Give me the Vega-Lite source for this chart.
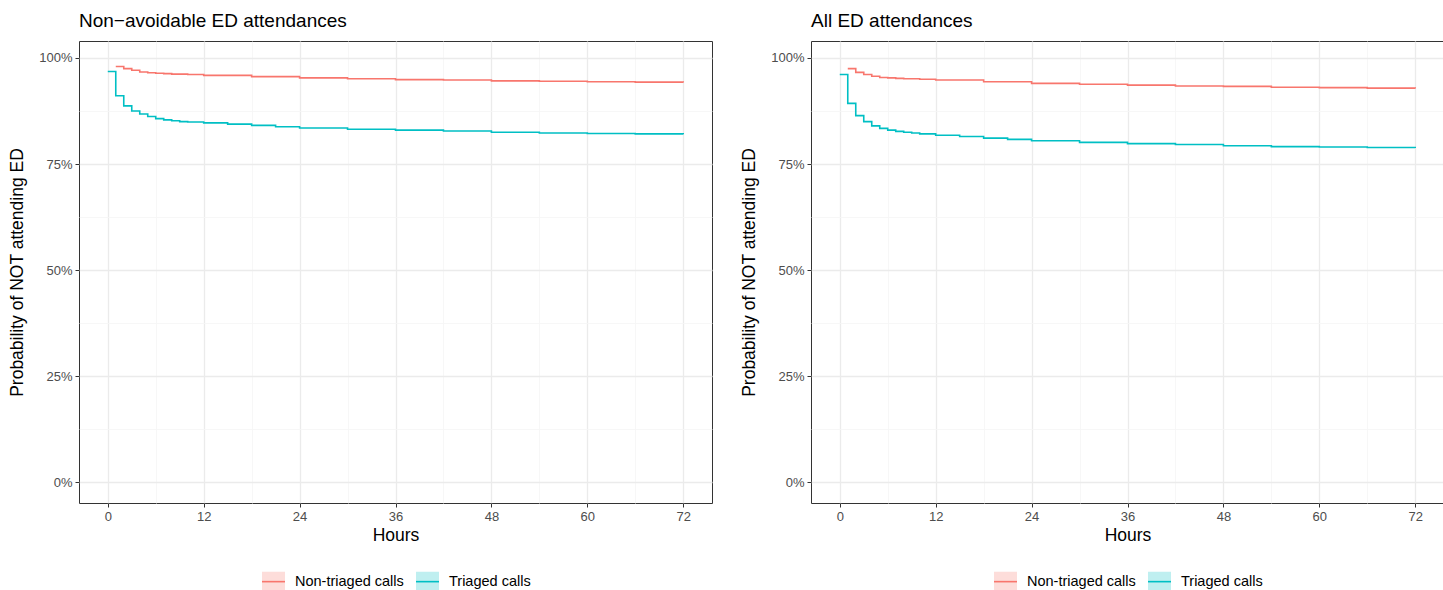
{
  "$schema": "https://vega.github.io/schema/vega-lite/v6.json",
  "padding": {"left": 8, "top": 11, "right": 0, "bottom": 0},
  "datasets": {
    "km": [
      {"panel": "A", "group": "Non-triaged calls", "h": 1, "p": 0.980},
      {"panel": "A", "group": "Non-triaged calls", "h": 2, "p": 0.975},
      {"panel": "A", "group": "Non-triaged calls", "h": 3, "p": 0.971},
      {"panel": "A", "group": "Non-triaged calls", "h": 4, "p": 0.967},
      {"panel": "A", "group": "Non-triaged calls", "h": 5, "p": 0.965},
      {"panel": "A", "group": "Non-triaged calls", "h": 6, "p": 0.964},
      {"panel": "A", "group": "Non-triaged calls", "h": 7, "p": 0.963},
      {"panel": "A", "group": "Non-triaged calls", "h": 8, "p": 0.962},
      {"panel": "A", "group": "Non-triaged calls", "h": 10, "p": 0.961},
      {"panel": "A", "group": "Non-triaged calls", "h": 12, "p": 0.959},
      {"panel": "A", "group": "Non-triaged calls", "h": 18, "p": 0.956},
      {"panel": "A", "group": "Non-triaged calls", "h": 24, "p": 0.953},
      {"panel": "A", "group": "Non-triaged calls", "h": 30, "p": 0.951},
      {"panel": "A", "group": "Non-triaged calls", "h": 36, "p": 0.949},
      {"panel": "A", "group": "Non-triaged calls", "h": 42, "p": 0.948},
      {"panel": "A", "group": "Non-triaged calls", "h": 48, "p": 0.946},
      {"panel": "A", "group": "Non-triaged calls", "h": 54, "p": 0.945},
      {"panel": "A", "group": "Non-triaged calls", "h": 60, "p": 0.944},
      {"panel": "A", "group": "Non-triaged calls", "h": 66, "p": 0.943},
      {"panel": "A", "group": "Non-triaged calls", "h": 72, "p": 0.942},
      {"panel": "A", "group": "Triaged calls", "h": 0, "p": 0.968},
      {"panel": "A", "group": "Triaged calls", "h": 1, "p": 0.911},
      {"panel": "A", "group": "Triaged calls", "h": 2, "p": 0.887},
      {"panel": "A", "group": "Triaged calls", "h": 3, "p": 0.875},
      {"panel": "A", "group": "Triaged calls", "h": 4, "p": 0.868},
      {"panel": "A", "group": "Triaged calls", "h": 5, "p": 0.862},
      {"panel": "A", "group": "Triaged calls", "h": 6, "p": 0.857},
      {"panel": "A", "group": "Triaged calls", "h": 7, "p": 0.854},
      {"panel": "A", "group": "Triaged calls", "h": 8, "p": 0.852},
      {"panel": "A", "group": "Triaged calls", "h": 9, "p": 0.850},
      {"panel": "A", "group": "Triaged calls", "h": 10, "p": 0.849},
      {"panel": "A", "group": "Triaged calls", "h": 12, "p": 0.847},
      {"panel": "A", "group": "Triaged calls", "h": 15, "p": 0.844},
      {"panel": "A", "group": "Triaged calls", "h": 18, "p": 0.841},
      {"panel": "A", "group": "Triaged calls", "h": 21, "p": 0.838},
      {"panel": "A", "group": "Triaged calls", "h": 24, "p": 0.835},
      {"panel": "A", "group": "Triaged calls", "h": 30, "p": 0.832},
      {"panel": "A", "group": "Triaged calls", "h": 36, "p": 0.830},
      {"panel": "A", "group": "Triaged calls", "h": 42, "p": 0.828},
      {"panel": "A", "group": "Triaged calls", "h": 48, "p": 0.825},
      {"panel": "A", "group": "Triaged calls", "h": 54, "p": 0.823},
      {"panel": "A", "group": "Triaged calls", "h": 60, "p": 0.822},
      {"panel": "A", "group": "Triaged calls", "h": 66, "p": 0.821},
      {"panel": "A", "group": "Triaged calls", "h": 72, "p": 0.820},
      {"panel": "B", "group": "Non-triaged calls", "h": 1, "p": 0.975},
      {"panel": "B", "group": "Non-triaged calls", "h": 2, "p": 0.966},
      {"panel": "B", "group": "Non-triaged calls", "h": 3, "p": 0.961},
      {"panel": "B", "group": "Non-triaged calls", "h": 4, "p": 0.957},
      {"panel": "B", "group": "Non-triaged calls", "h": 5, "p": 0.954},
      {"panel": "B", "group": "Non-triaged calls", "h": 6, "p": 0.953},
      {"panel": "B", "group": "Non-triaged calls", "h": 7, "p": 0.952},
      {"panel": "B", "group": "Non-triaged calls", "h": 8, "p": 0.951},
      {"panel": "B", "group": "Non-triaged calls", "h": 10, "p": 0.950},
      {"panel": "B", "group": "Non-triaged calls", "h": 12, "p": 0.948},
      {"panel": "B", "group": "Non-triaged calls", "h": 18, "p": 0.944},
      {"panel": "B", "group": "Non-triaged calls", "h": 24, "p": 0.940},
      {"panel": "B", "group": "Non-triaged calls", "h": 30, "p": 0.938},
      {"panel": "B", "group": "Non-triaged calls", "h": 36, "p": 0.936},
      {"panel": "B", "group": "Non-triaged calls", "h": 42, "p": 0.934},
      {"panel": "B", "group": "Non-triaged calls", "h": 48, "p": 0.933},
      {"panel": "B", "group": "Non-triaged calls", "h": 54, "p": 0.931},
      {"panel": "B", "group": "Non-triaged calls", "h": 60, "p": 0.930},
      {"panel": "B", "group": "Non-triaged calls", "h": 66, "p": 0.929},
      {"panel": "B", "group": "Non-triaged calls", "h": 72, "p": 0.928},
      {"panel": "B", "group": "Triaged calls", "h": 0, "p": 0.961},
      {"panel": "B", "group": "Triaged calls", "h": 1, "p": 0.893},
      {"panel": "B", "group": "Triaged calls", "h": 2, "p": 0.864},
      {"panel": "B", "group": "Triaged calls", "h": 3, "p": 0.850},
      {"panel": "B", "group": "Triaged calls", "h": 4, "p": 0.840},
      {"panel": "B", "group": "Triaged calls", "h": 5, "p": 0.834},
      {"panel": "B", "group": "Triaged calls", "h": 6, "p": 0.830},
      {"panel": "B", "group": "Triaged calls", "h": 7, "p": 0.827},
      {"panel": "B", "group": "Triaged calls", "h": 8, "p": 0.825},
      {"panel": "B", "group": "Triaged calls", "h": 9, "p": 0.823},
      {"panel": "B", "group": "Triaged calls", "h": 10, "p": 0.821},
      {"panel": "B", "group": "Triaged calls", "h": 12, "p": 0.818},
      {"panel": "B", "group": "Triaged calls", "h": 15, "p": 0.815},
      {"panel": "B", "group": "Triaged calls", "h": 18, "p": 0.811},
      {"panel": "B", "group": "Triaged calls", "h": 21, "p": 0.808},
      {"panel": "B", "group": "Triaged calls", "h": 24, "p": 0.805},
      {"panel": "B", "group": "Triaged calls", "h": 30, "p": 0.801},
      {"panel": "B", "group": "Triaged calls", "h": 36, "p": 0.798},
      {"panel": "B", "group": "Triaged calls", "h": 42, "p": 0.796},
      {"panel": "B", "group": "Triaged calls", "h": 48, "p": 0.793},
      {"panel": "B", "group": "Triaged calls", "h": 54, "p": 0.791},
      {"panel": "B", "group": "Triaged calls", "h": 60, "p": 0.790},
      {"panel": "B", "group": "Triaged calls", "h": 66, "p": 0.789},
      {"panel": "B", "group": "Triaged calls", "h": 72, "p": 0.788}
    ]
  },
  "config": {
    "font": "Liberation Sans",
    "view": {"stroke": "#333333", "strokeWidth": 1},
    "axis": {
      "labelFont": "Liberation Sans",
      "labelFontSize": 13,
      "labelColor": "#4d4d4d",
      "titleFont": "Liberation Sans",
      "titleFontSize": 17.5,
      "titleFontWeight": "normal",
      "titleColor": "#000000",
      "tickColor": "#333333",
      "tickSize": 4,
      "labelPadding": 3,
      "titlePadding": 3,
      "domain": false,
      "gridColor": "#ebebeb",
      "gridWidth": 1.3
    },
    "axisY": {"titlePadding": 12},
    "legend": {
      "orient": "bottom",
      "direction": "horizontal",
      "title": null,
      "labelFont": "Liberation Sans",
      "labelFontSize": 14.5,
      "labelColor": "#000000",
      "symbolType": "M-1,0H1V-0.87H-1V0.87H1V0Z",
      "symbolSize": 529,
      "symbolStrokeWidth": 1.6,
      "offset": 25,
      "columnPadding": 8,
      "labelOffset": 9,
      "layout": {"bottom": {"anchor": "middle", "direction": "horizontal"}}
    },
    "title": {"font": "Liberation Sans", "fontSize": 19, "fontWeight": "normal", "anchor": "start", "frame": "group", "color": "#000000", "offset": 10},
    "concat": {"spacing": 27}
  },
  "resolve": {"legend": {"color": "independent"}},
  "hconcat": [
    {
      "title": "Non−avoidable ED attendances",
      "width": 633,
      "height": 462,
      "data": {"name": "km"},
      "transform": [{"filter": "datum.panel === 'A'"}],
      "layer": [
        {
          "mark": {"type": "line", "opacity": 0},
          "encoding": {
            "x": {"field": "h", "type": "quantitative", "scale": {"domain": [-3.6, 75.6], "nice": false, "zero": false},
                  "axis": {"orient": "bottom", "values": [6, 18, 30, 42, 54, 66], "grid": true, "gridColor": "#f5f5f5", "gridWidth": 0.8, "labels": false, "ticks": false, "title": null, "domain": false}},
            "y": {"field": "p", "type": "quantitative", "scale": {"domain": [-0.049, 1.04], "nice": false, "zero": false},
                  "axis": {"orient": "left", "values": [0.125, 0.375, 0.625, 0.875], "grid": true, "gridColor": "#f5f5f5", "gridWidth": 0.8, "labels": false, "ticks": false, "title": null, "domain": false}}
          }
        },
        {
          "mark": {"type": "line", "interpolate": "step-after", "strokeWidth": 1.6},
          "encoding": {
            "x": {"field": "h", "type": "quantitative", "axis": {"orient": "bottom", "values": [0, 12, 24, 36, 48, 60, 72], "title": "Hours", "grid": true}},
            "y": {"field": "p", "type": "quantitative", "axis": {"orient": "left", "values": [0, 0.25, 0.5, 0.75, 1], "format": ".0%", "title": "Probability of NOT attending ED", "grid": true}},
            "color": {"field": "group", "type": "nominal", "scale": {"domain": ["Non-triaged calls", "Triaged calls"], "range": ["#F8766D", "#00BFC4"]},
                      "legend": {"encode": {"symbols": {"update": {"fill": {"signal": "scale('color', datum.value)"}, "fillOpacity": {"value": 0.25}, "stroke": {"signal": "scale('color', datum.value)"}, "strokeOpacity": {"value": 1}, "opacity": {"value": 1}, "strokeDash": {"value": [23, 1000]}, "strokeWidth": {"value": 1.6}}}}}}
          }
        }
      ],
      "resolve": {"axis": {"x": "independent", "y": "independent"}}
    },
    {
      "title": "All ED attendances",
      "width": 633,
      "height": 462,
      "data": {"name": "km"},
      "transform": [{"filter": "datum.panel === 'B'"}],
      "layer": [
        {
          "mark": {"type": "line", "opacity": 0},
          "encoding": {
            "x": {"field": "h", "type": "quantitative", "scale": {"domain": [-3.6, 75.6], "nice": false, "zero": false},
                  "axis": {"orient": "bottom", "values": [6, 18, 30, 42, 54, 66], "grid": true, "gridColor": "#f5f5f5", "gridWidth": 0.8, "labels": false, "ticks": false, "title": null, "domain": false}},
            "y": {"field": "p", "type": "quantitative", "scale": {"domain": [-0.049, 1.04], "nice": false, "zero": false},
                  "axis": {"orient": "left", "values": [0.125, 0.375, 0.625, 0.875], "grid": true, "gridColor": "#f5f5f5", "gridWidth": 0.8, "labels": false, "ticks": false, "title": null, "domain": false}}
          }
        },
        {
          "mark": {"type": "line", "interpolate": "step-after", "strokeWidth": 1.6},
          "encoding": {
            "x": {"field": "h", "type": "quantitative", "axis": {"orient": "bottom", "values": [0, 12, 24, 36, 48, 60, 72], "title": "Hours", "grid": true}},
            "y": {"field": "p", "type": "quantitative", "axis": {"orient": "left", "values": [0, 0.25, 0.5, 0.75, 1], "format": ".0%", "title": "Probability of NOT attending ED", "grid": true}},
            "color": {"field": "group", "type": "nominal", "scale": {"domain": ["Non-triaged calls", "Triaged calls"], "range": ["#F8766D", "#00BFC4"]},
                      "legend": {"encode": {"symbols": {"update": {"fill": {"signal": "scale('color', datum.value)"}, "fillOpacity": {"value": 0.25}, "stroke": {"signal": "scale('color', datum.value)"}, "strokeOpacity": {"value": 1}, "opacity": {"value": 1}, "strokeDash": {"value": [23, 1000]}, "strokeWidth": {"value": 1.6}}}}}}
          }
        }
      ],
      "resolve": {"axis": {"x": "independent", "y": "independent"}}
    }
  ]
}
